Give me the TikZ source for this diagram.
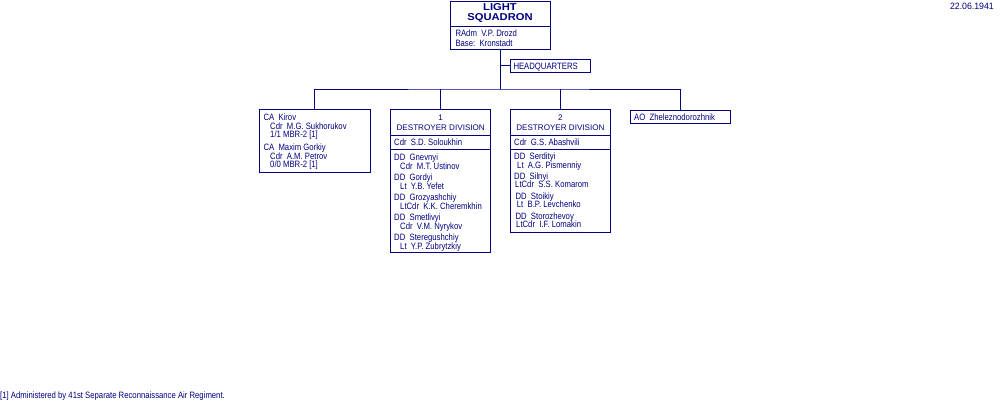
\documentclass[tikz,border=0pt]{standalone}
\usepackage{fontspec}
\setmainfont{Liberation Sans}
\newfontfamily\condf[FakeStretch=0.84]{Liberation Sans}
\newfontfamily\datef[FakeStretch=0.95]{Liberation Sans}
\newfontfamily\widef[FakeStretch=1.12]{Liberation Sans}
\definecolor{navy}{HTML}{000080}
\begin{document}
\begin{tikzpicture}[x=1pt,y=-1pt,
  box/.style={draw=navy, line width=1pt, inner sep=0pt, outer sep=0pt, anchor=north west},
  txt/.style={text=navy, inner sep=0pt, anchor=north west, align=left, font=\condf\fontsize{9.2}{8.7}\selectfont},
  ttl/.style={text=navy, inner sep=0pt, anchor=north, align=center, font=\fontsize{8.1}{10}\selectfont},
  btl/.style={text=navy, inner sep=0pt, anchor=north, align=center, font=\widef\bfseries\fontsize{10}{10}\selectfont},
  conn/.style={draw=navy, line width=1pt},
  sep/.style={draw=navy, line width=1pt}]
\useasboundingbox (0,0) rectangle (1000,400);
% top box
\node[box, minimum width=100pt, minimum height=48pt] (sq) at (450,1) {};
\draw[sep] (450,26) -- (550,26);
\node[btl] (sqt) at (500,3.7) {LIGHT\\SQUADRON};
\node[txt, font=\condf\fontsize{9.2}{9.4}\selectfont] (sqc) at (455.3,30) {RAdm~~V.P. Drozd\\Base:~~Kronstadt};
% headquarters
\node[box, minimum width=80.7pt, minimum height=13pt] (hq) at (510,59) {};
\node[txt] (hqt) at (513.3,62.7) {HEADQUARTERS};
% CA box
\node[box, minimum width=111.7pt, minimum height=63pt] (ca) at (259,109) {};
\node[txt] (ca1) at (263.3,113.7) {CA~~Kirov\\\hspace*{6.7pt}Cdr~~M.G. Sukhorukov\\\hspace*{6.7pt}1/1 MBR-2 [1]};
\node[txt] (ca2) at (263.3,143.7) {CA~~Maxim Gorkiy\\\hspace*{6.7pt}Cdr~~A.M. Petrov\\\hspace*{6.7pt}0/0 MBR-2 [1]};
% destroyer division 1
\node[box, minimum width=100pt, minimum height=143pt] (d1) at (390.7,109) {};
\draw[sep] (390.7,135) -- (490.7,135);
\draw[sep] (390.7,149) -- (490.7,149);
\node[ttl] (d1t) at (440.7,114.6) {1\\DESTROYER DIVISION};
\node[txt] (d1c) at (394,139) {Cdr~~S.D. Soloukhin};
\node[txt] (d1a) at (394,153.7) {DD~~Gnevnyi\\\hspace*{6pt}Cdr~~M.T. Ustinov};
\node[txt] (d1b) at (394,173.7) {DD~~Gordyi\\\hspace*{6pt}Lt~~Y.B. Yefet};
\node[txt] (d1e) at (394,193.7) {DD~~Grozyashchiy\\\hspace*{6pt}LtCdr~~K.K. Cheremkhin};
\node[txt] (d1f) at (394,213.7) {DD~~Smetlivyi\\\hspace*{6pt}Cdr~~V.M. Nyrykov};
\node[txt] (d1g) at (394,233.7) {DD~~Steregushchiy\\\hspace*{6pt}Lt~~Y.P. Zubrytzkiy};
% destroyer division 2
\node[box, minimum width=99.3pt, minimum height=123pt] (d2) at (510.7,109) {};
\draw[sep] (510.7,135) -- (610,135);
\draw[sep] (510.7,149) -- (610,149);
\node[ttl] (d2t) at (560.4,114.2) {2\\DESTROYER DIVISION};
\node[txt] (d2c) at (514,139) {Cdr~~G.S. Abashvili};
\node[txt] (d2a) at (514,153) {DD~~Serdityi\\\hspace*{3pt}Lt~~A.G. Pismenniy};
\node[txt] (d2b) at (514,172.4) {DD~~Silnyi\\\hspace*{1pt}LtCdr~~S.S. Komarom};
\node[txt] (d2e) at (515.3,192.4) {DD~~Stoikiy\\\hspace*{1.4pt}Lt~~B.P. Levchenko};
\node[txt] (d2f) at (515.3,212.4) {DD~~Storozhevoy\\\hspace*{0.7pt}LtCdr~~I.F. Lomakin};
% AO box
\node[box, minimum width=100.7pt, minimum height=13.7pt] (ao) at (630,110) {};
\node[txt] (aot) at (634,114) {AO~~Zheleznodorozhnik};
% connectors
\coordinate (bus) at (500,89);
\draw[conn] (sq.south) -- (sq.south |- bus);
\draw[conn] (sq.south |- hq.west) -- (hq.west);
\draw[conn] (ca.north) |- (bus) -| (ao.north);
\draw[conn] (d1.north) -- (d1.north |- bus);
\draw[conn] (d2.north) -- (d2.north |- bus);
% date and footnote
\node[text=navy, inner sep=0pt, anchor=base east, font=\datef\fontsize{9.2}{9}\selectfont] (date) at (994,9.7) {22.06.1941};
\node[text=navy, inner sep=0pt, anchor=base west, font=\condf\fontsize{9.2}{9}\selectfont] (fn) at (0,398) {[1] Administered by 41st Separate Reconnaissance Air Regiment.};
\end{tikzpicture}
\end{document}
